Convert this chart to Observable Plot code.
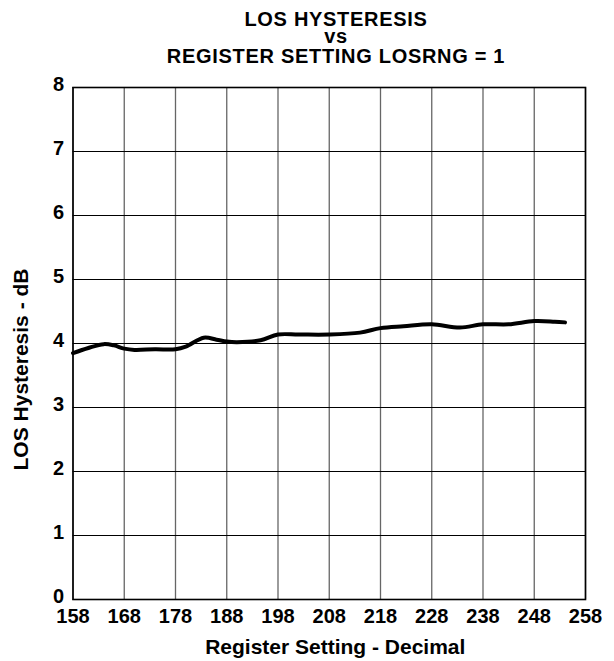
<!DOCTYPE html>
<html>
<head>
<meta charset="utf-8">
<script src="https://cdn.jsdelivr.net/npm/d3@7"></script>
<script src="https://cdn.jsdelivr.net/npm/@observablehq/plot@0.6"></script>
<style>
  body { margin: 0; background: #fff; font-family: "Liberation Sans", Arial, sans-serif; }
  #wrap { position: relative; width: 614px; height: 661px; }
  .t { position: absolute; left: 336px; transform: translateX(-50%); white-space: nowrap;
       font-weight: bold; font-size: 20px; line-height: 20px; letter-spacing: 0.7px; color: #000; }
  #chart { position: absolute; left: 0; top: 0; }
</style>
</head>
<body>
<div id="wrap">
  <div id="chart"></div>
  <div class="t" style="top:9px">LOS HYSTERESIS</div>
  <div class="t" style="top:26px">vs</div>
  <div class="t" style="top:46px">REGISTER SETTING LOSRNG = 1</div>
</div>
<script>
const registerSetting = [158, 161, 164, 166, 168, 170, 174, 178, 180, 183.5, 186, 188, 190, 194.6, 198, 202, 208, 214, 218, 222.5, 228, 233.5, 238, 243, 248, 252, 254];
const hysteresisDb   = [3.85, 3.93, 3.99, 3.97, 3.92, 3.90, 3.91, 3.91, 3.95, 4.09, 4.06, 4.03, 4.02, 4.05, 4.14, 4.14, 4.14, 4.17, 4.24, 4.27, 4.30, 4.25, 4.30, 4.30, 4.35, 4.34, 4.33];
const xTicks = [158, 168, 178, 188, 198, 208, 218, 228, 238, 248, 258];
const yTicks = [0, 1, 2, 3, 4, 5, 6, 7, 8];
const xLabel = "Register Setting - Decimal";
const yLabel = "LOS Hysteresis - dB";

const data = registerSetting.map((x, i) => ({x, y: hysteresisDb[i]}));

const chart = Plot.plot({
  width: 614,
  height: 661,
  marginTop: 87,
  marginBottom: 62,
  marginLeft: 72.5,
  marginRight: 29,
  style: {fontFamily: "Liberation Sans, Arial, sans-serif", fontSize: "20px", fontWeight: "bold", color: "#000", background: "#fff"},
  x: {domain: [158, 258]},
  y: {domain: [0, 8]},
  marks: [
    Plot.ruleX(xTicks, {stroke: "#666", strokeWidth: 1.3}),
    Plot.ruleY(yTicks, {stroke: "#000", strokeWidth: 1}),
    Plot.frame({stroke: "#000", strokeWidth: 1.6}),
    Plot.line(data, {x: "x", y: "y", stroke: "#000", strokeWidth: 4, curve: "catmull-rom"}),
    Plot.axisX({ticks: xTicks, tickSize: 0, tickPadding: 9.5, tickFormat: d => String(d), fontSize: 20, label: null}),
    Plot.axisY({ticks: yTicks, tickSize: 0, tickPadding: 9, fontSize: 20, dy: -3, label: null}),
    Plot.text([xLabel], {frameAnchor: "bottom", text: d => d, dx: 6, dy: 47.8, fontSize: 21, fontWeight: "bold", lineAnchor: "middle", textAnchor: "middle", fill: "#000"}),
    Plot.text([yLabel], {frameAnchor: "left", text: d => d, rotate: -90, dx: -51.3, dy: 26, fontSize: 21, fontWeight: "bold", lineAnchor: "middle", textAnchor: "middle", fill: "#000"})
  ]
});
document.getElementById("chart").appendChild(chart);
</script>
</body>
</html>
